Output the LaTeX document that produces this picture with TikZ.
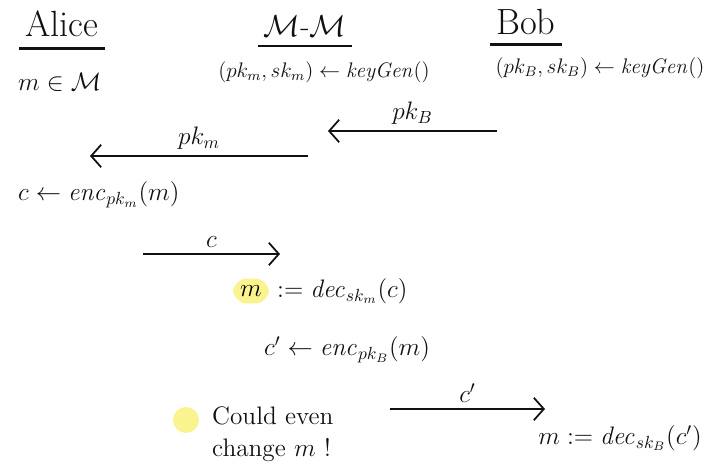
\documentclass[tikz,border=0pt]{standalone}
\usepackage{amsmath}
\usepackage{tikz}
\usetikzlibrary{arrows.meta,positioning}
\definecolor{HLYellow}{HTML}{FAF38E}
\definecolor{InkBlack}{HTML}{111111}

\begin{document}
\begin{tikzpicture}[x=0.02cm,y=-0.02cm,
    party/.style={font=\huge,text=InkBlack},
    ul/.style={line width=1.3pt,InkBlack},
    msg/.style={line width=1pt,InkBlack,-{Straight Barb[length=2mm,width=4.5mm]}},
    calc/.style={font=\Large,text=InkBlack,anchor=west},
    lbl/.style={font=\Large,above,text=InkBlack},
    hl/.style={fill=HLYellow,rounded corners=8pt,inner sep=4pt},
    dot/.style={circle,fill=HLYellow,minimum size=5.2mm,inner sep=0pt}]
    \useasboundingbox (0,0) rectangle (710,465);

    % parties
    \node[party] (alice) at (62,24) {Alice};
    \draw[ul] ([yshift=-3pt]alice.south west) -- ([yshift=-3pt]alice.south east);
    \node[calc] (alicemsg) at (12,82) {$m \in \mathcal{M}$};

    \node[party,font=\LARGE] (mitm) at (305,26) {$\mathcal{M}$-$\mathcal{M}$};
    \draw[ul] ([yshift=-2pt]mitm.south west) -- ([yshift=-2pt]mitm.south east);
    \node[font=\large,text=InkBlack] (mitmkeys) at (324,72) {$(pk_m, sk_m) \leftarrow \mathit{keyGen}()$};

    \node[party] (bob) at (526,22) {Bob};
    \draw[ul] ([yshift=-2pt]bob.south west) -- ([yshift=-2pt]bob.south east);
    \node[font=\large,text=InkBlack] (bobkeys) at (600,68) {$(pk_B, sk_B) \leftarrow \mathit{keyGen}()$};

    % public keys
    \coordinate (pkBfrom) at (497,131);
    \coordinate (pkBto)   at (328,131);
    \draw[msg] (pkBfrom) -- node[lbl] {$pk_B$} (pkBto);

    \coordinate (pkMfrom) at (308,156);
    \coordinate (pkMto)   at (90,156);
    \draw[msg] (pkMfrom) -- node[lbl] {$pk_m$} (pkMto);

    \node[calc] (encM) at (12,195) {$c \leftarrow \mathit{enc}_{pk_m}(m)$};

    % ciphertext to M-M
    \coordinate (cfrom) at (143,254);
    \coordinate (cto)   at (280,254);
    \draw[msg] (cfrom) -- node[lbl] {$c$} (cto);

    \node[hl,font=\Large] (mnew) at (251,291) {$m$};
    \node[calc,right=1pt of mnew] (decM) {$:= \mathit{dec}_{sk_m}(c)$};
    \node[calc] (encB) at (258,350) {$c' \leftarrow \mathit{enc}_{pk_B}(m)$};

    % note
    \node[dot] (note) at (186,420) {};
    \node[font=\Large,text=InkBlack,align=left,anchor=west] (notetext) at (206,434) {Could even\\change $m$ !};

    % forwarded ciphertext
    \coordinate (c2from) at (390,409);
    \coordinate (c2to)   at (545,409);
    \draw[msg] (c2from) -- node[lbl] {$c'$} (c2to);

    \node[calc,anchor=east] (decB) at (708,438) {$m := \mathit{dec}_{sk_B}(c')$};
\end{tikzpicture}
\end{document}
